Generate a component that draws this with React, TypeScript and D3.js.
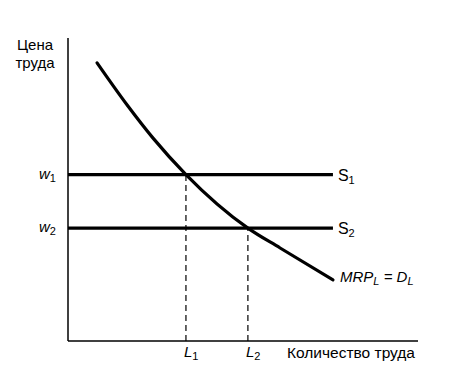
import React from "react";
import * as d3 from "d3";

const curveX = [8.3, 16.9, 24.3, 33.7, 51.4, 60.6, 75.7];
const curveY = [92.4, 78.4, 67.4, 55.3, 37.5, 30.9, 20.3];
const wageLevels = [55.3, 37.5];
const wageLabels = ["1", "2"];
const quantities = [33.7, 51.4];
const quantityLabels = ["1", "2"];
const supplyEnd = 75.7;

export default function App() {
  const W = 453, H = 375;
  const x = d3.scaleLinear().domain([0, 100]).range([68, 418]);
  const y = d3.scaleLinear().domain([0, 100]).range([341, 40]);
  const pts: [number, number][] = curveX.map((v, i) => [v, curveY[i]]);
  const line = d3.line<[number, number]>().x(d => x(d[0])).y(d => y(d[1])).curve(d3.curveMonotoneX);
  const font = "Liberation Sans, Arial, sans-serif";
  return (
    <svg width={W} height={H} style={{ position: "absolute", left: 0, top: 0, background: "#fff" }} fontFamily={font}>
      <line x1={x(0)} y1={38} x2={x(0)} y2={y(0)} stroke="#000" strokeWidth={1.5} />
      <line x1={x(0)} y1={y(0)} x2={418} y2={y(0)} stroke="#000" strokeWidth={1.5} />
      <text x={35} y={50} fontSize={15} textAnchor="middle">Цена</text>
      <text x={35} y={68} fontSize={15} textAnchor="middle">труда</text>
      {quantities.map((q, i) => (
        <line key={"d" + i} x1={x(q)} x2={x(q)} y1={y(0)} y2={y(wageLevels[i])} stroke="#000" strokeWidth={1.2} strokeDasharray="6,4" />
      ))}
      {wageLevels.map((w, i) => (
        <g key={"w" + i}>
          <line x1={x(0)} x2={x(supplyEnd)} y1={y(w)} y2={y(w)} stroke="#000" strokeWidth={3.2} />
          <text x={39} y={y(w) + 4} fontSize={15} fontStyle="italic">w<tspan fontSize={11} fontStyle="normal" dy={3}>{wageLabels[i]}</tspan></text>
          <text x={x(supplyEnd) + 5} y={y(w) + 6} fontSize={16}>S<tspan fontSize={11} dy={3}>{wageLabels[i]}</tspan></text>
        </g>
      ))}
      <path d={line(pts)!} fill="none" stroke="#000" strokeWidth={3.2} strokeLinecap="round" />
      <text x={340} y={282} fontSize={15} fontStyle="italic">MRP<tspan fontSize={11} dy={3}>L</tspan><tspan dy={-3}> = D</tspan><tspan fontSize={11} dy={3}>L</tspan></text>
      {quantities.map((q, i) => (
        <text key={"l" + i} x={x(q) - 2} y={357} fontSize={15} fontStyle="italic">L<tspan fontSize={11} fontStyle="normal" dy={3}>{quantityLabels[i]}</tspan></text>
      ))}
      <text x={287} y={358} fontSize={15.5}>Количество труда</text>
    </svg>
  );
}
